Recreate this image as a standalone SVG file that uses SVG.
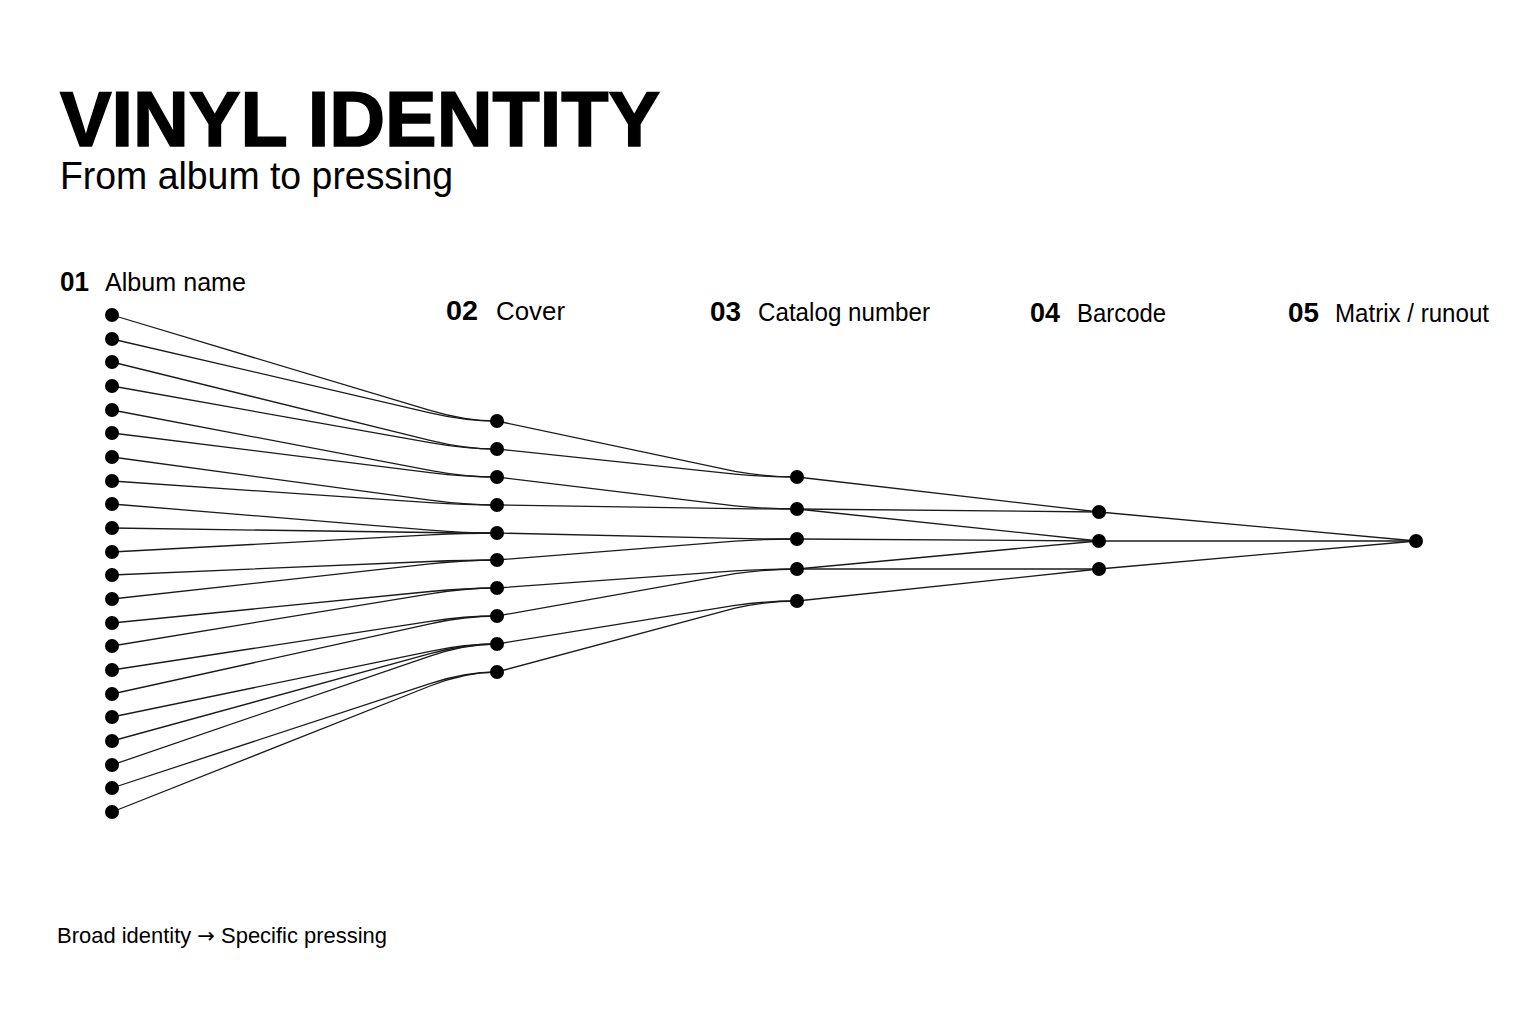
<svg xmlns="http://www.w3.org/2000/svg" width="1536" height="1024" viewBox="0 0 1536 1024">
<style>
.t{font-family:"Liberation Sans",Arial,sans-serif;fill:#000}
.title{font-size:77px;font-weight:bold;stroke:#000;stroke-width:1.6}
.sub{font-size:38px}
.num{font-size:27px;font-weight:bold}
.lab{font-size:26px}
.foot{font-size:22px}
.arr{font-family:"DejaVu Sans",sans-serif;font-size:21px}
.e{fill:none;stroke:#1a1a1a;stroke-width:1.3}
.n{fill:#000}
</style>
<rect width="1536" height="1024" fill="#fff"/>
<g id="header">
<text class="t title" x="60" y="146" textLength="600" lengthAdjust="spacingAndGlyphs">VINYL IDENTITY</text>
<text class="t sub" x="60" y="189" textLength="393" lengthAdjust="spacingAndGlyphs">From album to pressing</text>
</g>
<g id="labels">
<text class="t num" x="60" y="291" textLength="29" lengthAdjust="spacingAndGlyphs">01</text>
<text class="t lab" x="105" y="291" textLength="141" lengthAdjust="spacingAndGlyphs">Album name</text>
<text class="t num" x="446" y="320" textLength="32" lengthAdjust="spacingAndGlyphs">02</text>
<text class="t lab" x="496" y="320" textLength="69" lengthAdjust="spacingAndGlyphs">Cover</text>
<text class="t num" x="710" y="321" textLength="31" lengthAdjust="spacingAndGlyphs">03</text>
<text class="t lab" x="758" y="321" textLength="172" lengthAdjust="spacingAndGlyphs">Catalog number</text>
<text class="t num" x="1030" y="322" textLength="30" lengthAdjust="spacingAndGlyphs">04</text>
<text class="t lab" x="1077" y="322" textLength="89" lengthAdjust="spacingAndGlyphs">Barcode</text>
<text class="t num" x="1288" y="322" textLength="31" lengthAdjust="spacingAndGlyphs">05</text>
<text class="t lab" x="1335" y="322" textLength="154" lengthAdjust="spacingAndGlyphs">Matrix / runout</text>
</g>
<g id="connectors">
<path class="e" d="M112 315 L430 410.4 Q465 421 497 421"/>
<path class="e" d="M112 339 L430 412.8 Q465 421 497 421"/>
<path class="e" d="M112 362 L430 440.3 Q465 449 497 449"/>
<path class="e" d="M112 386 L430 442.7 Q465 449 497 449"/>
<path class="e" d="M112 410 L430 470.3 Q465 477 497 477"/>
<path class="e" d="M112 433 L430 472.6 Q465 477 497 477"/>
<path class="e" d="M112 457 L430 500.2 Q465 505 497 505"/>
<path class="e" d="M112 481 L430 502.6 Q465 505 497 505"/>
<path class="e" d="M112 504 L430 530.1 Q465 533 497 533"/>
<path class="e" d="M112 528 L430 532.5 Q465 533 497 533"/>
<path class="e" d="M112 552 L430 534.9 Q465 533 497 533"/>
<path class="e" d="M112 575 L430 561.5 Q465 560 497 560"/>
<path class="e" d="M112 599 L430 563.9 Q465 560 497 560"/>
<path class="e" d="M112 623 L430 591.5 Q465 588 497 588"/>
<path class="e" d="M112 646 L430 593.8 Q465 588 497 588"/>
<path class="e" d="M112 670 L430 621.4 Q465 616 497 616"/>
<path class="e" d="M112 694 L430 623.8 Q465 616 497 616"/>
<path class="e" d="M112 717 L430 651.3 Q465 644 497 644"/>
<path class="e" d="M112 741 L430 653.7 Q465 644 497 644"/>
<path class="e" d="M112 765 L430 656.1 Q465 644 497 644"/>
<path class="e" d="M112 788 L430 683.6 Q465 672 497 672"/>
<path class="e" d="M112 812 L430 686.0 Q465 672 497 672"/>
<path class="e" d="M497 421 L735 471.4 Q767 477 797 477"/>
<path class="e" d="M497 449 L735 474.2 Q767 477 797 477"/>
<path class="e" d="M497 477 L735 505.8 Q767 509 797 509"/>
<path class="e" d="M497 505 L735 508.6 Q767 509 797 509"/>
<path class="e" d="M497 533 L735 538.4 Q767 539 797 539"/>
<path class="e" d="M497 560 L735 541.1 Q767 539 797 539"/>
<path class="e" d="M497 588 L735 570.9 Q767 569 797 569"/>
<path class="e" d="M497 616 L735 573.7 Q767 569 797 569"/>
<path class="e" d="M497 644 L735 605.3 Q767 601 797 601"/>
<path class="e" d="M497 672 L735 608.1 Q767 601 797 601"/>
<path class="e" d="M797 477 L1099 512"/>
<path class="e" d="M797 509 L1099 512"/>
<path class="e" d="M797 509 L1099 541"/>
<path class="e" d="M797 539 L1099 541"/>
<path class="e" d="M797 569 L1099 541"/>
<path class="e" d="M797 569 L1099 569"/>
<path class="e" d="M797 601 L1099 569"/>
<path class="e" d="M1099 512 L1416 541"/>
<path class="e" d="M1099 541 L1416 541"/>
<path class="e" d="M1099 569 L1416 541"/>
</g>
<g id="col1-album-name">
<circle class="n" cx="112" cy="315" r="7"/><circle class="n" cx="112" cy="339" r="7"/><circle class="n" cx="112" cy="362" r="7"/><circle class="n" cx="112" cy="386" r="7"/><circle class="n" cx="112" cy="410" r="7"/><circle class="n" cx="112" cy="433" r="7"/><circle class="n" cx="112" cy="457" r="7"/><circle class="n" cx="112" cy="481" r="7"/><circle class="n" cx="112" cy="504" r="7"/><circle class="n" cx="112" cy="528" r="7"/><circle class="n" cx="112" cy="552" r="7"/><circle class="n" cx="112" cy="575" r="7"/><circle class="n" cx="112" cy="599" r="7"/><circle class="n" cx="112" cy="623" r="7"/><circle class="n" cx="112" cy="646" r="7"/><circle class="n" cx="112" cy="670" r="7"/><circle class="n" cx="112" cy="694" r="7"/><circle class="n" cx="112" cy="717" r="7"/><circle class="n" cx="112" cy="741" r="7"/><circle class="n" cx="112" cy="765" r="7"/><circle class="n" cx="112" cy="788" r="7"/><circle class="n" cx="112" cy="812" r="7"/>
</g>
<g id="col2-cover">
<circle class="n" cx="497" cy="421" r="7"/><circle class="n" cx="497" cy="449" r="7"/><circle class="n" cx="497" cy="477" r="7"/><circle class="n" cx="497" cy="505" r="7"/><circle class="n" cx="497" cy="533" r="7"/><circle class="n" cx="497" cy="560" r="7"/><circle class="n" cx="497" cy="588" r="7"/><circle class="n" cx="497" cy="616" r="7"/><circle class="n" cx="497" cy="644" r="7"/><circle class="n" cx="497" cy="672" r="7"/>
</g>
<g id="col3-catalog">
<circle class="n" cx="797" cy="477" r="7"/><circle class="n" cx="797" cy="509" r="7"/><circle class="n" cx="797" cy="539" r="7"/><circle class="n" cx="797" cy="569" r="7"/><circle class="n" cx="797" cy="601" r="7"/>
</g>
<g id="col4-barcode">
<circle class="n" cx="1099" cy="512" r="7"/><circle class="n" cx="1099" cy="541" r="7"/><circle class="n" cx="1099" cy="569" r="7"/>
</g>
<g id="col5-matrix">
<circle class="n" cx="1416" cy="541" r="7"/>
</g>
<g id="footer">
<text class="t foot" x="57" y="943" textLength="330" lengthAdjust="spacingAndGlyphs">Broad identity <tspan class="arr">→</tspan> Specific pressing</text>
</g>
</svg>
